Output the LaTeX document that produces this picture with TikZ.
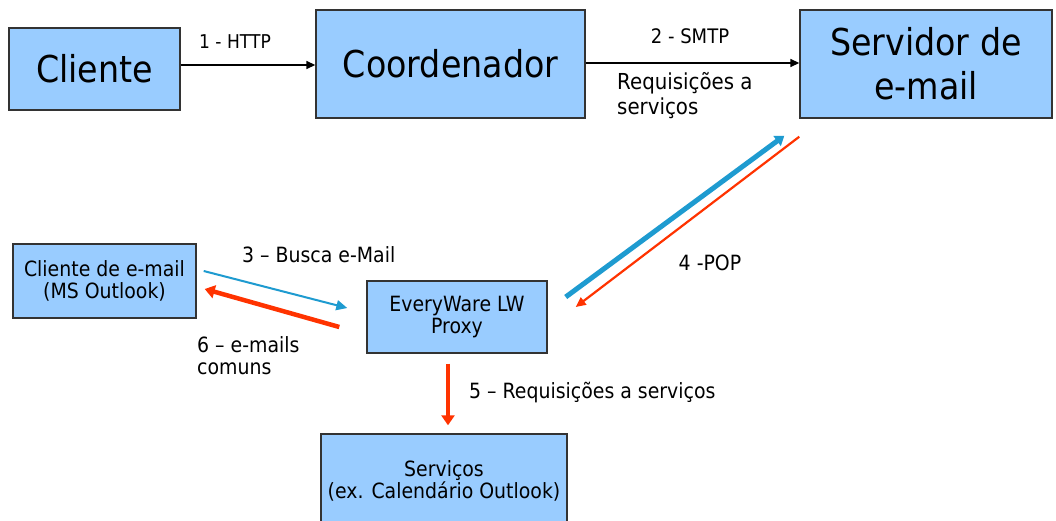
\documentclass[tikz,border=0pt]{standalone}
\usepackage{fontspec}
\setmainfont{DejaVu Sans}[FakeStretch=0.9]
\usetikzlibrary{arrows.meta,calc}
\definecolor{boxfill}{HTML}{99CCFF}
\definecolor{boxline}{HTML}{333333}
\definecolor{arrblue}{HTML}{1E9BD0}
\definecolor{arrred}{HTML}{FF3300}
\begin{document}
\begin{tikzpicture}[x=1pt,y=-1pt,
  box/.style={draw=boxline,fill=boxfill,line width=1.4pt,inner sep=0pt,align=center},
  bigtxt/.style={font=\fontsize{37}{44}\selectfont},
  medtxt/.style={font=\fontsize{22}{25}\selectfont},
  smalltxt/.style={font=\fontsize{21}{22}\selectfont},
  lbl/.style={inner sep=0pt,align=left},
  blackarr/.style={draw=black,line width=1.5pt,-{Triangle[length=9pt,width=8pt]}},
  bluethick/.style={draw=arrblue,line width=5pt,-{Triangle[length=9pt,width=12pt]}},
  bluethin/.style={draw=arrblue,line width=2pt,-{Triangle[length=11pt,width=10pt]}},
  redthick/.style={draw=arrred,line width=4.5pt,-{Triangle[length=10pt,width=13pt]}},
  redthin/.style={draw=arrred,line width=2.2pt,-{Triangle[length=10pt,width=9pt]}}]
\useasboundingbox (0,0) rectangle (1056,521);
\clip (0,0) rectangle (1056,521);
\fill[white] (0,0) rectangle (1056,521);

% boxes
\node[box,bigtxt,minimum width=171pt,minimum height=82pt] (cli) at (94.5,69) {Cliente};
\node[box,bigtxt,minimum width=269pt,minimum height=108pt] (coord) at (450.5,64) {Coordenador};
\node[box,bigtxt,minimum width=252pt,minimum height=108pt] (serv) at (926,64) {Servidor de\\e-mail};
\node[box,smalltxt,minimum width=183pt,minimum height=74pt] (mailc) at (104.5,281) {Cliente de e-mail\\(MS Outlook)};
\node[box,smalltxt,minimum width=180pt,minimum height=72pt] (proxy) at (457,317) {EveryWare LW\\Proxy};
\node[box,smalltxt,minimum width=246pt,minimum height=94pt] (srv) at (444,481) {Serviços\\(ex. Calendário Outlook)};

% arrows
\draw[blackarr] ([yshift=4pt]cli.east) -- ([yshift=4pt]cli.east -| coord.west);
\draw[blackarr] ([yshift=1pt]coord.east) -- ([yshift=1pt]coord.east -| serv.west);
\coordinate (b4s) at ($(proxy.east)+(18,-20)$);
\coordinate (b4e) at ($(serv.south west)+(-15,17)$);
\coordinate (r4s) at ($(serv.south west)+(0,18)$);
\coordinate (r4e) at ($(proxy.east)+(28,-10)$);
\draw[bluethick] (b4s) -- (b4e);
\draw[redthin] (r4s) -- (r4e);
\coordinate (b3s) at ($(mailc.east)+(7,-10)$);
\coordinate (b3e) at ($(proxy.west)+(-19,-9)$);
\coordinate (r6s) at ($(proxy.west)+(-27,10)$);
\coordinate (r6e) at ($(mailc.east)+(8,8)$);
\draw[bluethin] (b3s) -- (b3e);
\draw[redthick] (r6s) -- (r6e);
\coordinate (r5s) at ($(proxy.south)+(-9,10)$);
\coordinate (r5e) at ($(srv.north)+(4,-8)$);
\draw[redthick] (r5s) -- (r5e);

% labels
\node[lbl,font=\fontsize{19}{22}\selectfont] (l1) at (235,42) {1 - HTTP};
\node[lbl,font=\fontsize{20}{22}\selectfont] (l2) at (690,36) {2 - SMTP};
\node[lbl,medtxt,anchor=west] (l2b) at (617,95.5) {Requisições a\\serviços};
\node[lbl,smalltxt] (l4) at (710,263) {4 -POP};
\node[lbl,smalltxt,anchor=west] (l3) at (242,255) {3 – Busca e-Mail};
\node[lbl,smalltxt,anchor=west] (l6) at (197,356) {6 – e-mails\\comuns};
\node[lbl,smalltxt,anchor=west] (l5) at (469,393) {5 – Requisições a serviços};
\end{tikzpicture}
\end{document}
